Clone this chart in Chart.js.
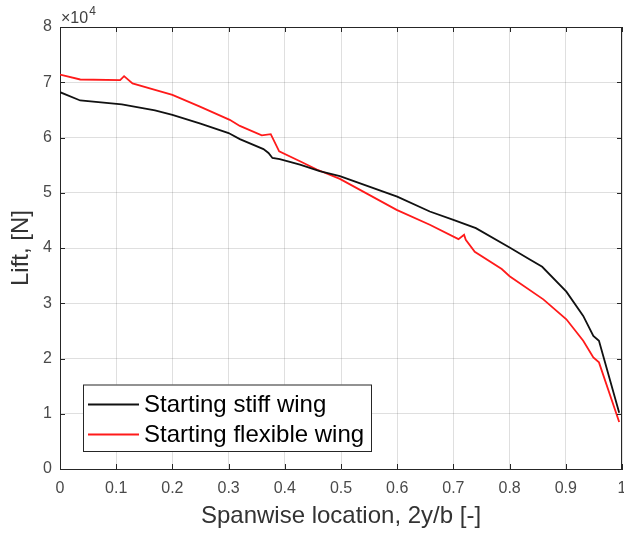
<!DOCTYPE html>
<html><head><meta charset="utf-8">
<script src="https://cdn.jsdelivr.net/npm/chart.js@4"></script>
<style>html,body{margin:0;padding:0;background:#fff}#wrap{width:624px;height:535px}</style>
</head><body><div id="wrap"><canvas id="c" width="624" height="535"></canvas></div>
<script>
// ---- data ----
const seriesNames = ['Starting stiff wing', 'Starting flexible wing'];
const xStiff = [0, 0.036, 0.11, 0.169, 0.2, 0.25, 0.3, 0.32, 0.362, 0.371, 0.378, 0.391, 0.427, 0.462, 0.498, 0.6, 0.658, 0.70, 0.74, 0.80, 0.836, 0.858, 0.901, 0.931, 0.949, 0.959, 0.995];
const yStiff = [68200, 66700, 66000, 64900, 64100, 62500, 60800, 59700, 57900, 57200, 56300, 56100, 55100, 53900, 53000, 49300, 46600, 45100, 43600, 40100, 37900, 36600, 32100, 27700, 24100, 23200, 10200];
const xFlex = [0, 0.036, 0.107, 0.114, 0.129, 0.169, 0.2, 0.249, 0.302, 0.320, 0.359, 0.375, 0.390, 0.427, 0.457, 0.498, 0.599, 0.658, 0.709, 0.719, 0.722, 0.738, 0.786, 0.80, 0.86, 0.901, 0.931, 0.949, 0.959, 0.995];
const yFlex = [71400, 70500, 70400, 71100, 69800, 68600, 67700, 65600, 63200, 62100, 60400, 60600, 57500, 55700, 54200, 52500, 46900, 44200, 41600, 42400, 41500, 39300, 36200, 34900, 30700, 27100, 23200, 20200, 19300, 8500];
const xTickVals = [0, 0.1, 0.2, 0.3, 0.4, 0.5, 0.6, 0.7, 0.8, 0.9, 1];
const xTickLabels = ['0', '0.1', '0.2', '0.3', '0.4', '0.5', '0.6', '0.7', '0.8', '0.9', '1'];
const yTickVals = [0, 10000, 20000, 30000, 40000, 50000, 60000, 70000, 80000];
const yTickLabels = ['0', '1', '2', '3', '4', '5', '6', '7', '8'];
const xTitle = 'Spanwise location, 2y/b [-]';
const yTitle = 'Lift, [N]';
const exponentBase = '\u00d710';
const exponentPower = '4';

const FONT = "'Liberation Sans', Arial, Helvetica, sans-serif";
const AX = '#262626';
const toPts = (xs, ys) => xs.map((x, i) => ({x: x, y: ys[i]}));

const framePlugin = {
  id: 'frame',
  afterDraw(chart) {
    const ctx = chart.ctx, a = chart.chartArea;
    const xs = chart.scales.x, ys = chart.scales.y;
    ctx.save();
    ctx.strokeStyle = AX; ctx.lineWidth = 1;
    ctx.beginPath();
    ctx.moveTo(a.left, a.top + 0.5); ctx.lineTo(a.right, a.top + 0.5);
    ctx.moveTo(a.right - 0.5, a.top); ctx.lineTo(a.right - 0.5, a.bottom);
    const tl = 5;
    xTickVals.forEach(v => {
      const px = Math.round(xs.getPixelForValue(v)) + 0.5;
      ctx.moveTo(px, a.bottom); ctx.lineTo(px, a.bottom - tl);
      ctx.moveTo(px, a.top); ctx.lineTo(px, a.top + tl);
    });
    yTickVals.forEach(v => {
      const py = Math.round(ys.getPixelForValue(v)) + 0.5;
      ctx.moveTo(a.left, py); ctx.lineTo(a.left + tl, py);
      ctx.moveTo(a.right, py); ctx.lineTo(a.right - tl, py);
    });
    ctx.stroke();
    // exponent label
    ctx.fillStyle = '#404040';
    ctx.textBaseline = 'alphabetic'; ctx.textAlign = 'left';
    ctx.font = '16px ' + FONT;
    ctx.fillText(exponentBase, 61, 23);
    const w = ctx.measureText(exponentBase).width;
    ctx.font = '12px ' + FONT;
    ctx.fillText(exponentPower, 61 + w + 1, 15);
    // legend
    const lx = 83, ly = 384.5, lw = 288, lh = 66.5;
    ctx.fillStyle = '#fff';
    ctx.fillRect(lx, ly, lw, lh);
    ctx.strokeStyle = AX; ctx.lineWidth = 1;
    ctx.strokeRect(lx + 0.5, ly + 0.5, lw, lh);
    ctx.font = '24px ' + FONT;
    ctx.textBaseline = 'middle';
    chart.data.datasets.forEach((ds, i) => {
      const cy = 404.5 + i * 30;
      ctx.strokeStyle = ds.borderColor; ctx.lineWidth = 1.8;
      ctx.beginPath(); ctx.moveTo(88, cy); ctx.lineTo(139, cy); ctx.stroke();
      ctx.fillStyle = '#000';
      ctx.fillText(ds.label, 144, cy + 1);
    });
    ctx.restore();
  }
};

new Chart(document.getElementById('c'), {
  type: 'line',
  data: {
    datasets: [
      {label: seriesNames[0], data: toPts(xStiff, yStiff), borderColor: '#111111', borderWidth: 1.8, pointRadius: 0, tension: 0, fill: false},
      {label: seriesNames[1], data: toPts(xFlex, yFlex), borderColor: '#ff1a1a', borderWidth: 1.8, pointRadius: 0, tension: 0, fill: false}
    ]
  },
  options: {
    responsive: false,
    animation: false,
    devicePixelRatio: 1,
    layout: {padding: {left: 0, right: 2, top: 27, bottom: 0}},
    plugins: {legend: {display: false}, tooltip: {enabled: false}},
    scales: {
      x: {
        type: 'linear', min: 0, max: 1,
        afterBuildTicks: s => { s.ticks = xTickVals.map(v => ({value: v})); },
        afterFit: s => { s.height = 66; s.paddingLeft = 0; s.paddingRight = 0; },
        grid: {color: 'rgba(38,38,38,0.15)', drawTicks: false, lineWidth: 1},
        border: {display: true, color: AX, width: 1},
        ticks: {padding: 10, color: '#4a4a4a', font: {family: FONT, size: 16}, maxRotation: 0, autoSkip: false,
          callback: (v, i) => xTickLabels[i]},
        title: {display: true, text: xTitle, color: '#333333', font: {family: FONT, size: 24}, padding: {top: 0, bottom: 4}}
      },
      y: {
        type: 'linear', min: 0, max: 80000,
        afterBuildTicks: s => { s.ticks = yTickVals.map(v => ({value: v})); },
        afterFit: s => { s.width = 60; s.paddingTop = 0; s.paddingBottom = 0; },
        grid: {color: 'rgba(38,38,38,0.15)', drawTicks: false, lineWidth: 1},
        border: {display: true, color: AX, width: 1},
        ticks: {padding: 8, color: '#4a4a4a', font: {family: FONT, size: 16}, autoSkip: false,
          callback: (v, i) => yTickLabels[i]},
        title: {display: true, text: yTitle, color: '#333333', font: {family: FONT, size: 24}, padding: {top: 7, bottom: 0}}
      }
    }
  },
  plugins: [framePlugin]
});
</script>
</body></html>
